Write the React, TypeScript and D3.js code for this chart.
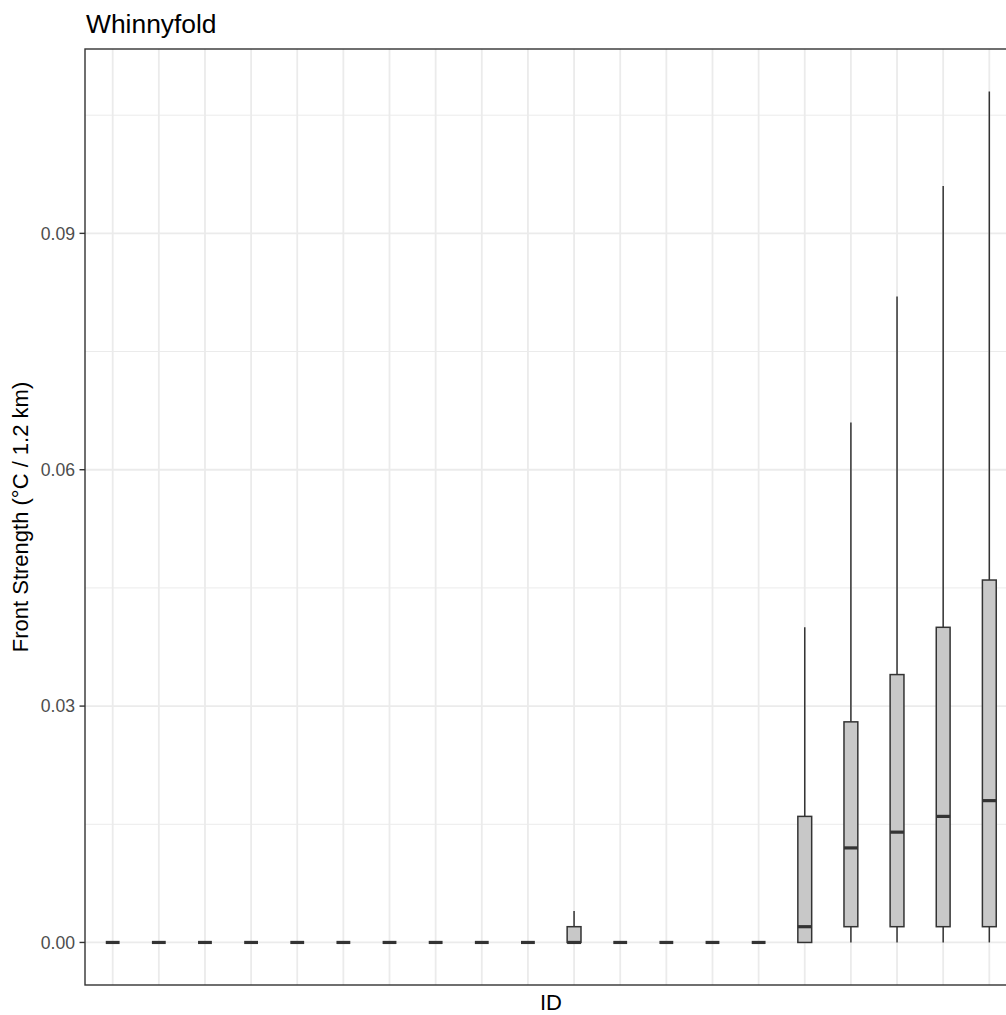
import React from "react";
import * as d3 from "d3";

const ids = Array.from({ length: 20 }, (_, i) => `ID${i + 1}`);
const whiskerLow = [0, 0, 0, 0, 0, 0, 0, 0, 0, 0, 0, 0, 0, 0, 0, 0, 0, 0, 0, 0];
const q1 = [0, 0, 0, 0, 0, 0, 0, 0, 0, 0, 0, 0, 0, 0, 0, 0, 0.002, 0.002, 0.002, 0.002];
const median = [0, 0, 0, 0, 0, 0, 0, 0, 0, 0, 0, 0, 0, 0, 0, 0.002, 0.012, 0.014, 0.016, 0.018];
const q3 = [0, 0, 0, 0, 0, 0, 0, 0, 0, 0, 0.002, 0, 0, 0, 0, 0.016, 0.028, 0.034, 0.04, 0.046];
const whiskerHigh = [0, 0, 0, 0, 0, 0, 0, 0, 0, 0, 0.004, 0, 0, 0, 0, 0.04, 0.066, 0.082, 0.096, 0.108];
const yTicks = [0, 0.03, 0.06, 0.09];
const yMinor = [0.015, 0.045, 0.075, 0.105];

const W = 1006;
const H = 1015;
const left = 85;
const right = 1017;
const top = 49;
const bottom = 985;

export default function App() {
  const maxV = d3.max(whiskerHigh) as number;
  const pad = maxV * 0.05;
  const y = d3.scaleLinear().domain([-pad, maxV + pad]).range([bottom, top]);
  const x = d3.scalePoint<string>().domain(ids).range([left, right]).padding(0.6);
  const step = x.step();
  const bw = step * 0.3;
  const font = "'Liberation Sans', Arial, sans-serif";
  return (
    <div style={{ position: "absolute", left: 0, top: 0 }}>
      <svg width={W} height={H} style={{ display: "block", background: "#fff" }}>
        <rect x={0} y={0} width={W} height={H} fill="#fff" />
        {/* minor grid */}
        {yMinor.map((v) => (
          <line key={"mn" + v} x1={left} x2={right} y1={y(v)} y2={y(v)} stroke="#EBEBEB" strokeWidth={1} />
        ))}
        {/* major grid */}
        {yTicks.map((v) => (
          <line key={"mj" + v} x1={left} x2={right} y1={y(v)} y2={y(v)} stroke="#EBEBEB" strokeWidth={1.8} />
        ))}
        {ids.map((id) => (
          <line key={"vg" + id} x1={x(id)} x2={x(id)} y1={top} y2={bottom} stroke="#EBEBEB" strokeWidth={1.8} />
        ))}
        {/* boxes */}
        {ids.map((id, i) => {
          const cx = x(id) as number;
          return (
            <g key={"b" + id}>
              <line x1={cx} x2={cx} y1={y(q3[i])} y2={y(whiskerHigh[i])} stroke="#333333" strokeWidth={1.5} />
              <line x1={cx} x2={cx} y1={y(q1[i])} y2={y(whiskerLow[i])} stroke="#333333" strokeWidth={1.5} />
              <rect
                x={cx - bw / 2}
                y={y(q3[i])}
                width={bw}
                height={y(q1[i]) - y(q3[i])}
                fill="#C8C8C8"
                stroke="#333333"
                strokeWidth={1.5}
              />
              <line x1={cx - bw / 2} x2={cx + bw / 2} y1={y(median[i])} y2={y(median[i])} stroke="#333333" strokeWidth={3.2} />
            </g>
          );
        })}
        {/* panel border */}
        <rect x={left} y={top} width={right - left} height={bottom - top} fill="none" stroke="#333333" strokeWidth={1.4} />
        {/* y ticks */}
        {yTicks.map((v) => (
          <g key={"t" + v}>
            <line x1={left - 5.5} x2={left} y1={y(v)} y2={y(v)} stroke="#333333" strokeWidth={1.4} />
            <text x={left - 10} y={y(v)} dy="0.35em" textAnchor="end" fontFamily={font} fontSize={17.6} fill="#4D4D4D">
              {d3.format(".2f")(v)}
            </text>
          </g>
        ))}
        <text x={86} y={33} fontFamily={font} fontSize={26.4} fill="#000">
          Whinnyfold
        </text>
        <text x={(left + right) / 2} y={1010} textAnchor="middle" fontFamily={font} fontSize={22} fill="#000">
          ID
        </text>
        <text
          transform={`translate(28,${(top + bottom) / 2}) rotate(-90)`}
          textAnchor="middle"
          fontFamily={font}
          fontSize={22}
          fill="#000"
        >
          Front Strength (°C / 1.2 km)
        </text>
      </svg>
    </div>
  );
}
